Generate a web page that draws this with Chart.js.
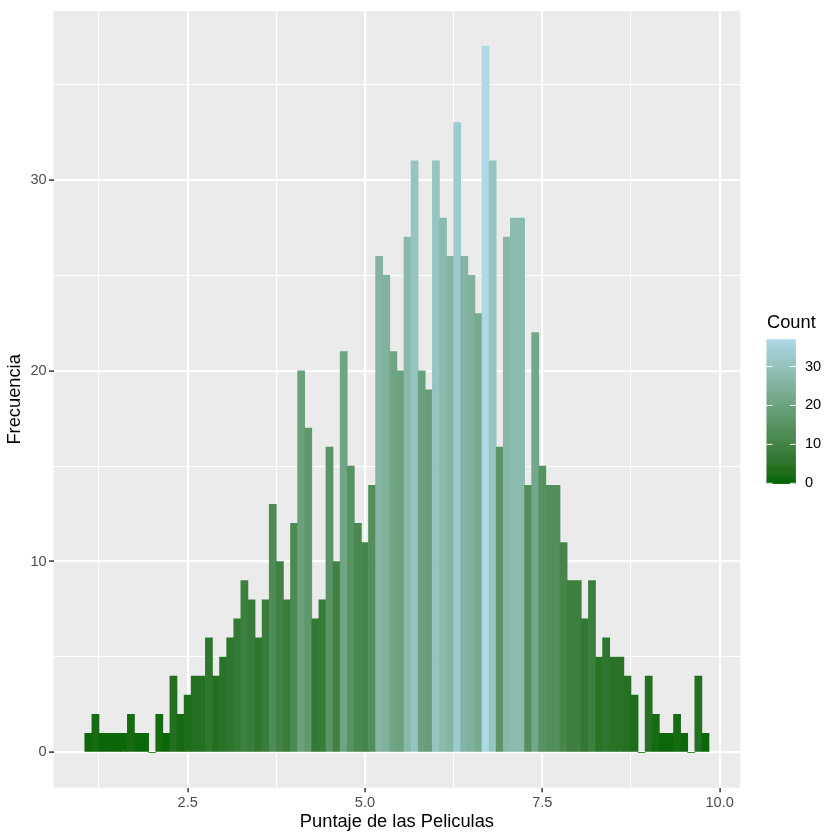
<!DOCTYPE html>
<html>
<head>
<meta charset="utf-8">
<script src="https://cdn.jsdelivr.net/npm/chart.js@4.4.1/dist/chart.umd.min.js"></script>
<style>
  html, body { margin: 0; padding: 0; background: #FFFFFF; }
  canvas { display: block; }
</style>
</head>
<body>
<canvas id="c" width="840" height="840"></canvas>
<script>
// ---- data ----
const binCenters = [1.1,1.2,1.3,1.4,1.5,1.6,1.7,1.8,1.9,2.0,
                    2.1,2.2,2.3,2.4,2.5,2.6,2.7,2.8,2.9,3.0,
                    3.1,3.2,3.3,3.4,3.5,3.6,3.7,3.8,3.9,4.0,
                    4.1,4.2,4.3,4.4,4.5,4.6,4.7,4.8,4.9,5.0,
                    5.1,5.2,5.3,5.4,5.5,5.6,5.7,5.8,5.9,6.0,
                    6.1,6.2,6.3,6.4,6.5,6.6,6.7,6.8,6.9,7.0,
                    7.1,7.2,7.3,7.4,7.5,7.6,7.7,7.8,7.9,8.0,
                    8.1,8.2,8.3,8.4,8.5,8.6,8.7,8.8,8.9,9.0,
                    9.1,9.2,9.3,9.4,9.5,9.6,9.7,9.8];
const counts = [1,2,1,1,1,1,2,1,1,0,
                2,1,4,2,3,4,4,6,4,5,
                6,7,9,8,6,8,13,10,8,12,
                20,17,7,8,16,10,21,15,12,11,
                14,26,25,21,20,27,31,20,19,31,
                28,26,33,26,25,23,37,31,16,27,
                28,28,14,22,15,14,14,11,9,9,
                7,9,5,6,5,5,4,3,0,4,
                2,1,1,2,1,0,4,1];
const xMajorTicks = [2.5, 5.0, 7.5, 10.0];
const xMinorTicks = [1.25, 3.75, 6.25, 8.75];
const yMajorTicks = [0, 10, 20, 30];
const yMinorTicks = [5, 15, 25, 35];
const legendTicks = [0, 10, 20, 30];
const xTitle = 'Puntaje de las Peliculas';
const yTitle = 'Frecuencia';
const legendTitle = 'Count';

// ---- colour ramp (CIELAB interpolation like ggplot2's scale_fill_gradient) ----
const LOW = [0x00, 0x64, 0x00];   // darkgreen
const HIGH = [0xAD, 0xD8, 0xE6];  // lightblue
function toLab(rgb) {
  const lin = rgb.map(c => { c /= 255; return c <= 0.04045 ? c / 12.92 : Math.pow((c + 0.055) / 1.055, 2.4); });
  const X = (0.4124564 * lin[0] + 0.3575761 * lin[1] + 0.1804375 * lin[2]) / 0.95047;
  const Y = (0.2126729 * lin[0] + 0.7151522 * lin[1] + 0.0721750 * lin[2]);
  const Z = (0.0193339 * lin[0] + 0.1191920 * lin[1] + 0.9503041 * lin[2]) / 1.08883;
  const f = t => t > 0.008856 ? Math.cbrt(t) : 7.787 * t + 16 / 116;
  const fx = f(X), fy = f(Y), fz = f(Z);
  return [116 * fy - 16, 500 * (fx - fy), 200 * (fy - fz)];
}
function fromLab(lab) {
  const fy = (lab[0] + 16) / 116, fx = fy + lab[1] / 500, fz = fy - lab[2] / 200;
  const inv = t => t * t * t > 0.008856 ? t * t * t : (t - 16 / 116) / 7.787;
  const X = inv(fx) * 0.95047, Y = inv(fy), Z = inv(fz) * 1.08883;
  let r = 3.2404542 * X - 1.5371385 * Y - 0.4985314 * Z;
  let g = -0.9692660 * X + 1.8760108 * Y + 0.0415560 * Z;
  let b = 0.0556434 * X - 0.2040259 * Y + 1.0572252 * Z;
  const gam = c => { c = c <= 0.0031308 ? 12.92 * c : 1.055 * Math.pow(c, 1 / 2.4) - 0.055; return Math.round(Math.min(1, Math.max(0, c)) * 255); };
  return [gam(r), gam(g), gam(b)];
}
const labLow = toLab(LOW), labHigh = toLab(HIGH);
const cMin = Math.min(...counts), cMax = Math.max(...counts);
function colorFor(v) {
  const t = (v - cMin) / (cMax - cMin);
  const lab = labLow.map((a, i) => a + (labHigh[i] - a) * t);
  const c = fromLab(lab);
  return `rgb(${c[0]},${c[1]},${c[2]})`;
}

const FONT = "'Liberation Sans', Arial, Helvetica, sans-serif";
Chart.defaults.font.family = FONT;
const TITLE_SIZE = 18.3;
const TICK_SIZE = 14.6;

const panelBg = {
  id: 'panelBg',
  beforeDraw(chart) {
    const { ctx, chartArea: a } = chart;
    ctx.save();
    ctx.fillStyle = '#EBEBEB';
    ctx.fillRect(a.left, a.top, a.right - a.left, a.bottom - a.top);
    ctx.restore();
  }
};

const colorBar = {
  id: 'colorBar',
  afterDraw(chart) {
    const ctx = chart.ctx;
    const x0 = 766.7, x1 = 795.7, yTop = 339.3, yBot = 483.3;
    const h = yBot - yTop;
    ctx.save();
    const steps = 300;
    for (let i = 0; i < steps; i++) {
      const v = cMin + (cMax - cMin) * (i + 0.5) / steps;
      const y = yBot - h * (i + 1) / steps;
      ctx.fillStyle = colorFor(v);
      ctx.fillRect(x0, y, x1 - x0, h / steps + 0.6);
    }
    ctx.strokeStyle = '#FFFFFF';
    ctx.lineWidth = 1;
    const tl = (x1 - x0) / 5;
    ctx.font = `${TICK_SIZE}px ${FONT}`;
    ctx.textBaseline = 'middle';
    ctx.textAlign = 'left';
    legendTicks.forEach(v => {
      const y = yBot - h * (v - cMin) / (cMax - cMin);
      ctx.beginPath();
      ctx.moveTo(x0, y); ctx.lineTo(x0 + tl, y);
      ctx.moveTo(x1 - tl, y); ctx.lineTo(x1, y);
      ctx.stroke();
      ctx.fillStyle = '#000000';
      ctx.fillText(String(v), 805, y);
    });
    ctx.font = `${TITLE_SIZE}px ${FONT}`;
    ctx.fillStyle = '#000000';
    ctx.fillText(legendTitle, 767, 323);
    ctx.restore();
  }
};

const isMajorX = v => xMajorTicks.some(t => Math.abs(t - v) < 1e-6);
const isMajorY = v => yMajorTicks.some(t => Math.abs(t - v) < 1e-6);

new Chart(document.getElementById('c'), {
  type: 'bar',
  data: {
    datasets: [{
      data: binCenters.map((x, i) => ({ x: x, y: counts[i] })),
      backgroundColor: counts.map(colorFor),
      borderWidth: 0,
      barPercentage: 1.0,
      categoryPercentage: 1.0
    }]
  },
  options: {
    responsive: false,
    animation: false,
    devicePixelRatio: 1,
    layout: { padding: { top: 8.7, right: 99.8, left: 0, bottom: 0 } },
    plugins: { legend: { display: false }, tooltip: { enabled: false } },
    scales: {
      x: {
        type: 'linear',
        min: 0.61, max: 10.29,
        offset: false,
        afterBuildTicks: s => { s.ticks = [...xMinorTicks, ...xMajorTicks].sort((a, b) => a - b).map(v => ({ value: v })); },
        afterFit: s => { s.height = 52.3; },
        ticks: {
          autoSkip: false, maxRotation: 0, padding: 2.2,
          color: '#4D4D4D', font: { size: TICK_SIZE },
          callback: v => isMajorX(v) ? v.toFixed(1) : ''
        },
        grid: {
          offset: false,
          color: '#FFFFFF',
          lineWidth: c => (c.tick && isMajorX(c.tick.value)) ? 2.2 : 1.1,
          tickColor: c => (c.tick && isMajorX(c.tick.value)) ? '#333333' : 'rgba(0,0,0,0)',
          tickLength: 4.6, tickWidth: 1.5
        },
        border: { display: false },
        title: { display: true, text: xTitle, color: '#000000', font: { size: TITLE_SIZE }, padding: { top: 0, bottom: 7.3 } }
      },
      y: {
        type: 'linear',
        min: -1.85, max: 38.85,
        afterBuildTicks: s => { s.ticks = [...yMinorTicks, ...yMajorTicks].sort((a, b) => a - b).map(v => ({ value: v })); },
        afterFit: s => { s.width = 53.6; },
        ticks: {
          autoSkip: false, padding: 2.3,
          color: '#4D4D4D', font: { size: TICK_SIZE },
          callback: v => isMajorY(v) ? String(v) : ''
        },
        grid: {
          color: '#FFFFFF',
          lineWidth: c => (c.tick && isMajorY(c.tick.value)) ? 2.2 : 1.1,
          tickColor: c => (c.tick && isMajorY(c.tick.value)) ? '#333333' : 'rgba(0,0,0,0)',
          tickLength: 4.6, tickWidth: 1.5
        },
        border: { display: false },
        title: { display: true, text: yTitle, color: '#000000', font: { size: TITLE_SIZE }, padding: { top: 4, bottom: 0 } }
      }
    }
  },
  plugins: [panelBg, colorBar]
});
</script>
</body>
</html>
